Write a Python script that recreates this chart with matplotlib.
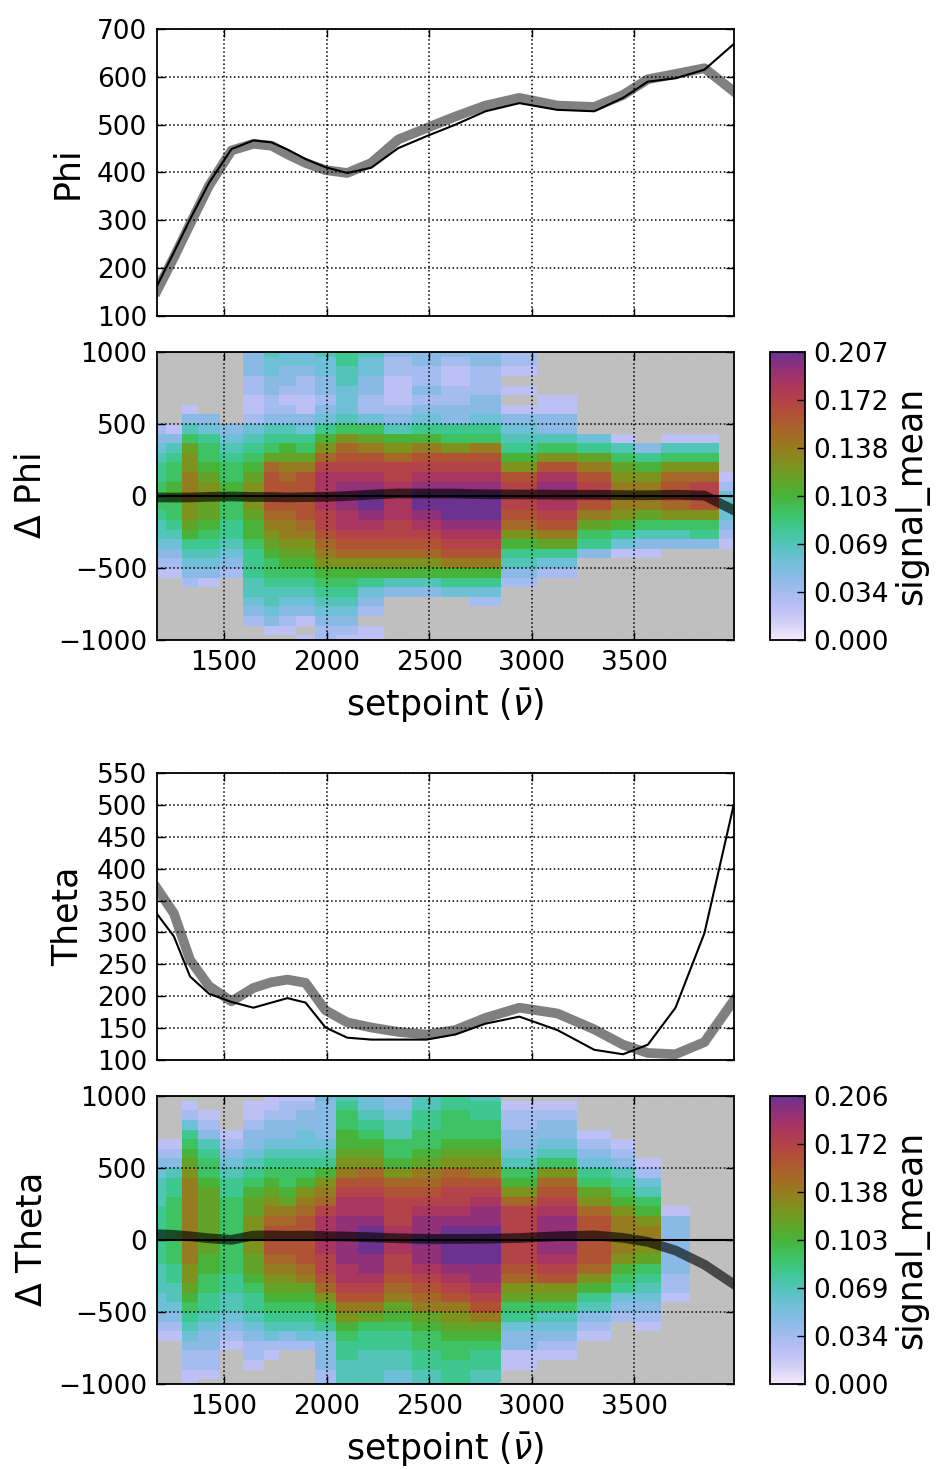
import numpy as np
import matplotlib
matplotlib.use("Agg")
import matplotlib.pyplot as plt
from matplotlib.colors import LinearSegmentedColormap, Normalize

# setpoint bin edges (wavenumber) of the heatmap columns
bin_edges = [1173, 1215, 1295, 1374, 1479, 1593, 1694, 1768, 1850, 1944, 2045, 2155,
             2280, 2418, 2557, 2697, 2851, 3027, 3222, 3386, 3502, 3629, 3770, 3913, 3985]
# delta rows: 31 bins centred on -1000 .. 1000
delta_edges = np.arange(-31, 32, 2) * 1000.0 / 30

# line data at the bin centres
setpoint = [1173, 1255, 1334, 1426, 1536, 1643, 1731, 1809, 1897, 1994, 2100, 2217,
            2349, 2487, 2627, 2774, 2939, 3124, 3304, 3444, 3565, 3700, 3841, 3985]
phi_fit = [163, 233, 302, 378, 449, 467, 463, 448, 428, 411, 399, 410,
           451, 476, 500, 528, 545, 531, 528, 556, 590, 597, 615, 669]
phi_mean = [153, 222, 292, 372, 446, 460, 456, 438, 420, 405, 399, 420,
            469, 493, 517, 540, 556, 540, 537, 562, 595, 606, 618, 569]
theta_fit = [329, 294, 231, 204, 191, 182, 190, 197, 190, 151, 135, 132,
             132, 132, 140, 157, 168, 147, 116, 109, 124, 182, 299, 502]
theta_mean = [369, 330, 257, 216, 192, 213, 222, 226, 221, 178, 159, 151,
              144, 140, 147, 166, 182, 173, 148, 124, 111, 109, 128, 194]

# heatmap cells, one string per setpoint column, top (+1000) to bottom (-1000)
# 'a'..'r' = 1/18 .. 18/18 of the colorbar maximum, '.' = empty bin
dphi_cols = [
    "........cdefgghhhgffedcb",
    "........bdfghhiihhgfedcb",
    "......bdfhjkklllkkjigfedc",
    ".......deghhijkkjjihgfedb",
    "........defghhiihhggfedc",
    "dddccbbcefghijkkkjiihgggffedc",
    "feeddccdfghjmnnnnmlkjihhgffedb",
    "eeddcbcdfgijlmnnnmllkjihgfedcb",
    "eedccbbdeghjlnnnnnmlkjihgfedb.b",
    "feeddcdegikmoppppoonmlkihgfedcc",
    "ggffeeefhkmnopqqqpponmkihgfedcb",
    "feeddccehjlnopqrrqponmkigedc.bb",
    "dccbbbcdfikmoopppp" + "oonmkifd",
    "ddccdcdegilnopqrrqponmkifd",
    "dcbbccddghknopqrrrqponlige",
    "ddcccddeghlnopqrrrqponligec",
    "ccb.b.bdefgiknooonmkigfdc",
    ".....bbddfhknpqpponljgec",
    ".........egjlnoonljhgd",
    ".........bfhjklllkigeb",
    "..........dgikllljhfdb",
    ".........bfhkmnnmkhfd",
    ".........bfhkmoonkhgd",
    ".............bcefedcb",
]
dtheta_cols = [
    ".....bcdefffggggggfffeedcb",
    ".....bcdfgghhhhhhhggffedcb",
    ".bceghijklllllllllkkjihgfedccbb",
    "..bcdfghhijjjjjjjiihhggfeddccb",
    "....bcdefgghhhhhhhhggffedcb",
    ".bbcddefghijjkkkkjjihggfedccb",
    "bbcddefghijklmnnnmlkjihgfecb",
    "bccddefghhijlmnnnmlkjihgfdc",
    "bcddeefghiklmnnnnnmljihgfec",
    "eddddefgiklmoppppoonmkihgedddcc",
    "fghhiijklnoppqqqqqpponlkihggfff",
    "eefghijkmnoppqrrrqqponljhggffff",
    "ddeffhhikmnooopppoonmljihggffee",
    "ffgghhijlmnopqqrqqponmljihhggff",
    "gghhhijkmnoopqrrrrqponlkjihhggg",
    "fgghhijklnopqqrrrrqqponljihggff",
    ".bccddefhikmoooooonmkjhgeddbb",
    ".bcddefhkmnopqqqqponkjhfedcb",
    "....bcdeghjkmnnnnnmkigfdcb",
    ".....bcdfghikllllkihgedc",
    ".......bcefhikllkjhgfedcb",
    "............bddddddccb",
    "",
    "",
]

phi_vmax = 0.207
theta_vmax = 0.2064
phi_cbar_labels = ["0.000", "0.034", "0.069", "0.103", "0.138", "0.172", "0.207"]
theta_cbar_labels = ["0.000", "0.034", "0.069", "0.103", "0.138", "0.172", "0.206"]

cmap_colors = ["#f4eafa", "#d4d0f6", "#bcc0f5", "#a4bcf0", "#88bae6", "#6ec0d6",
               "#52c4b8", "#3ec890", "#3ec262", "#48b43a", "#62a428", "#7e921e",
               "#967c20", "#a66828", "#b05434", "#b44248", "#aa365e", "#923078",
               "#6c3290"]
cmap = LinearSegmentedColormap.from_list("signal", cmap_colors)

LEVELS = "abcdefghijklmnopqr"


def decode(cols, vmax):
    n = len(delta_edges) - 1
    grid = np.full((n, len(cols)), np.nan)
    for j, col in enumerate(cols):
        for i, ch in enumerate(col.ljust(n, ".")):
            if ch != ".":
                grid[n - 1 - i, j] = (LEVELS.index(ch) + 1) / 18.0 * vmax
    return np.ma.masked_invalid(grid)


plt.rcParams["font.family"] = "DejaVu Sans"
plt.rcParams["mathtext.fontset"] = "dejavusans"

TICK_FS = 19
LABEL_FS = 25
W, H = 938.0, 1469.0


def px_axes(fig, x0, y0, x1, y1):
    return fig.add_axes([x0 / W, 1 - y1 / H, (x1 - x0) / W, (y1 - y0) / H])


def style(ax):
    ax.tick_params(direction="in", top=True, right=True, length=6, width=1,
                   labelsize=TICK_FS, pad=7)
    ax.grid(True, color="k", linestyle=":", linewidth=1.1)
    ax.set_axisbelow(False)
    for s in ax.spines.values():
        s.set_linewidth(1.3)
    ax.set_xlim(bin_edges[0], bin_edges[-1])
    ax.set_xticks([1500, 2000, 2500, 3000, 3500])


fig = plt.figure(figsize=(W / 100, H / 100), dpi=100)

panels = [
    (29, 316, 352, 640, phi_fit, phi_mean, dphi_cols, phi_vmax, phi_cbar_labels,
     "Phi", "$\\Delta$ Phi", (100, 700), np.arange(100, 701, 100)),
    (773, 1060, 1096, 1384, theta_fit, theta_mean, dtheta_cols, theta_vmax, theta_cbar_labels,
     "Theta", "$\\Delta$ Theta", (100, 550), np.arange(100, 551, 50)),
]

for (t0, t1, b0, b1, fit, mean, cols, vmax, cb_labels,
     name, dname, ylim, yticks) in panels:
    # upper panel: measured vs fitted angle
    ax = px_axes(fig, 157, t0, 734, t1)
    style(ax)
    ax.plot(setpoint, mean, color="0.5", linewidth=7, solid_joinstyle="round")
    ax.plot(setpoint, fit, color="k", linewidth=1.5)
    ax.set_ylim(*ylim)
    ax.set_yticks(yticks)
    ax.tick_params(labelbottom=False)
    ax.set_ylabel(name, fontsize=LABEL_FS, labelpad=9)

    # lower panel: heatmap of the residual distribution
    axd = px_axes(fig, 157, b0, 734, b1)
    axd.set_facecolor("#bfbfbf")
    norm = Normalize(0, vmax)
    mesh = axd.pcolormesh(bin_edges, delta_edges, decode(cols, vmax), cmap=cmap, norm=norm)
    axd.axhline(0, color="k", linewidth=1.5)
    resid = np.array(mean) - np.array(fit)
    axd.plot(setpoint, resid, color="k", alpha=0.62, linewidth=7, solid_joinstyle="round")
    style(axd)
    axd.set_ylim(-1000, 1000)
    axd.set_yticks([-1000, -500, 0, 500, 1000])
    axd.set_ylabel(dname, fontsize=LABEL_FS, labelpad=7)
    axd.set_xlabel("setpoint ($\\bar{\\nu}$)", fontsize=LABEL_FS, labelpad=8)

    cax = px_axes(fig, 770, b0, 805, b1)
    cb = fig.colorbar(mesh, cax=cax, ticks=np.linspace(0, vmax, 7))
    cb.ax.set_yticklabels(cb_labels)
    cb.ax.tick_params(direction="in", length=6, width=1, labelsize=TICK_FS, pad=6)
    cb.outline.set_linewidth(1.3)
    cb.set_label("signal_mean", fontsize=LABEL_FS, labelpad=4)

fig.savefig("out.png", dpi=100)
